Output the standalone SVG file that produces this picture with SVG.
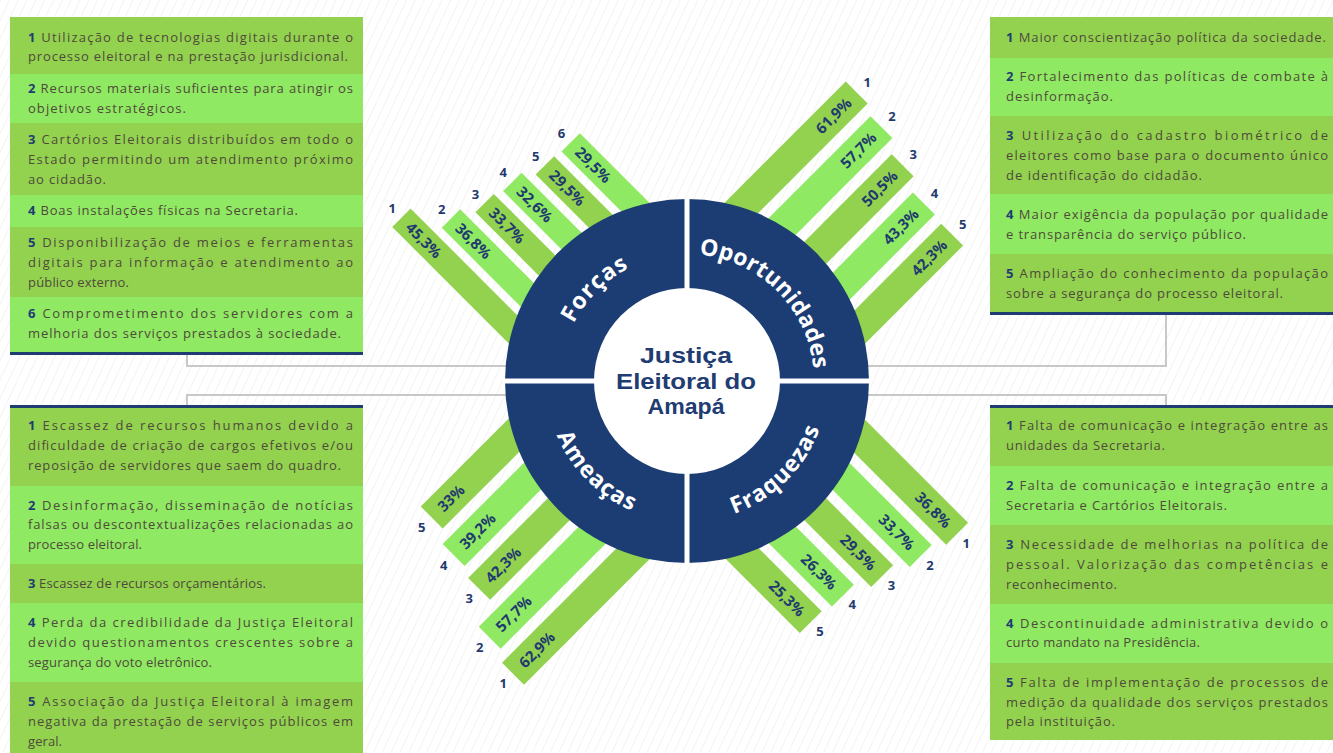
<svg xmlns="http://www.w3.org/2000/svg" width="1333" height="753" viewBox="0 0 1333 753">
<defs>
<pattern id="hatch" width="8" height="8" patternUnits="userSpaceOnUse" patternTransform="rotate(25)">
<line x1="0" y1="0" x2="0" y2="8" stroke="#efefef" stroke-width="1.5"/>
</pattern>
<path id="arcF" d="M560,381 A127,127 0 0 1 687,254"/>
<path id="arcO" d="M687,254 A127,127 0 0 1 814,381"/>
<path id="arcA" d="M546,381 A141,141 0 0 0 687,522"/>
<path id="arcR" d="M687,522 A141,141 0 0 0 828,381"/>
<style>
.pt{font-family:"Open Sans","Liberation Sans",sans-serif;font-size:13px;fill:#4f4a3b}
.n{font-weight:700;fill:#1f3c73}
.dk{fill:#93d24f}
.lt{fill:#8fe962}
.nv{fill:#1f3c73}
.pc{font-family:"Open Sans","Liberation Sans",sans-serif;font-weight:700;font-size:15px;fill:#1f3a6e}
.pe{text-anchor:end}
.num{font-family:"Open Sans","Liberation Sans",sans-serif;font-weight:700;font-size:13px;fill:#1f3a6e;text-anchor:middle}
.ql{font-family:"Open Sans","Liberation Sans",sans-serif;font-weight:700;font-size:23px;fill:#fff;letter-spacing:1px;text-anchor:middle}
.tight{letter-spacing:0.2px}
.ct{font-family:"Liberation Sans",Arial,sans-serif;font-weight:700;font-size:22px;fill:#1f3c73;text-anchor:middle}
.conn{fill:none;stroke:#c8c8c8;stroke-width:2}
</style>
</defs>
<rect width="1333" height="753" fill="#ffffff"/>
<rect width="1333" height="753" fill="url(#hatch)"/>

<g id="connectors">
<path class="conn" d="M187,355 V366 H687"/>
<path class="conn" d="M1166,315 V366 H687"/>
<path class="conn" d="M187,406 V395 H687"/>
<path class="conn" d="M1166,406 V395 H687"/>
</g>

<g id="bars-forcas" transform="translate(687,381) rotate(225)">
<rect class="dk" x="100" y="-99.5" width="217.4" height="26"/>
<rect class="lt" x="100" y="-65" width="181.8" height="26"/>
<rect class="dk" x="100" y="-30.3" width="168.9" height="26"/>
<rect class="lt" x="100" y="4.3" width="164.3" height="26"/>
<rect class="dk" x="100" y="39" width="153" height="26"/>
<rect class="lt" x="100" y="73.5" width="151" height="26"/>
<text class="pc" transform="translate(307.4,-86.5) rotate(180)" dy="0.36em">45,3%</text>
<text class="pc" transform="translate(271.8,-52) rotate(180)" dy="0.36em">36,8%</text>
<text class="pc" transform="translate(258.9,-17.3) rotate(180)" dy="0.36em">33,7%</text>
<text class="pc" transform="translate(254.3,17.3) rotate(180)" dy="0.36em">32,6%</text>
<text class="pc" transform="translate(243,52) rotate(180)" dy="0.36em">29,5%</text>
<text class="pc" transform="translate(241,86.5) rotate(180)" dy="0.36em">29,5%</text>
<text class="num" transform="translate(330.4,-86.5) rotate(-225)" dy="0.36em">1</text>
<text class="num" transform="translate(294.8,-52) rotate(-225)" dy="0.36em">2</text>
<text class="num" transform="translate(281.9,-17.3) rotate(-225)" dy="0.36em">3</text>
<text class="num" transform="translate(277.3,17.3) rotate(-225)" dy="0.36em">4</text>
<text class="num" transform="translate(266,52) rotate(-225)" dy="0.36em">5</text>
<text class="num" transform="translate(264,86.5) rotate(-225)" dy="0.36em">6</text>
</g>

<g id="bars-oportunidades" transform="translate(687,381) rotate(-45)">
<rect class="dk" x="100" y="-99.5" width="224" height="31"/>
<rect class="lt" x="100" y="-57.5" width="217" height="31"/>
<rect class="dk" x="100" y="-15.5" width="205" height="31"/>
<rect class="lt" x="100" y="26.5" width="193" height="31"/>
<rect class="dk" x="100" y="68.5" width="191" height="31"/>
<text class="pc pe" x="313" y="-84" dy="0.36em">61,9%</text>
<text class="pc pe" x="306" y="-42" dy="0.36em">57,7%</text>
<text class="pc pe" x="294" y="0" dy="0.36em">50,5%</text>
<text class="pc pe" x="282" y="42" dy="0.36em">43,3%</text>
<text class="pc pe" x="280" y="84" dy="0.36em">42,3%</text>
<text class="num" transform="translate(339,-84) rotate(45)" dy="0.36em">1</text>
<text class="num" transform="translate(332,-42) rotate(45)" dy="0.36em">2</text>
<text class="num" transform="translate(320,0) rotate(45)" dy="0.36em">3</text>
<text class="num" transform="translate(308,42) rotate(45)" dy="0.36em">4</text>
<text class="num" transform="translate(306,84) rotate(45)" dy="0.36em">5</text>
</g>

<g id="bars-ameacas" transform="translate(687,381) rotate(135)">
<rect class="dk" x="100" y="68.5" width="177" height="31"/>
<rect class="lt" x="100" y="26.5" width="188" height="31"/>
<rect class="dk" x="100" y="-15.5" width="194" height="31"/>
<rect class="lt" x="100" y="-57.5" width="221" height="31"/>
<rect class="dk" x="100" y="-99.5" width="230" height="31"/>
<text class="pc" transform="translate(265,84) rotate(180)" dy="0.36em">33%</text>
<text class="pc" transform="translate(276,42) rotate(180)" dy="0.36em">39,2%</text>
<text class="pc" transform="translate(282,0) rotate(180)" dy="0.36em">42,3%</text>
<text class="pc" transform="translate(309,-42) rotate(180)" dy="0.36em">57,7%</text>
<text class="pc" transform="translate(318,-84) rotate(180)" dy="0.36em">62,9%</text>
<text class="num" transform="translate(291,84) rotate(-135)" dy="0.36em">5</text>
<text class="num" transform="translate(302,42) rotate(-135)" dy="0.36em">4</text>
<text class="num" transform="translate(308,0) rotate(-135)" dy="0.36em">3</text>
<text class="num" transform="translate(335,-42) rotate(-135)" dy="0.36em">2</text>
<text class="num" transform="translate(344,-84) rotate(-135)" dy="0.36em">1</text>
</g>

<g id="bars-fraquezas" transform="translate(687,381) rotate(45)">
<rect class="dk" x="100" y="-98.5" width="199" height="31"/>
<rect class="lt" x="100" y="-57" width="189" height="31"/>
<rect class="dk" x="100" y="-15.5" width="176" height="31"/>
<rect class="lt" x="100" y="26" width="162" height="31"/>
<rect class="dk" x="100" y="67.5" width="158" height="31"/>
<text class="pc pe" x="287" y="-83" dy="0.36em">36,8%</text>
<text class="pc pe" x="277" y="-41.5" dy="0.36em">33,7%</text>
<text class="pc pe" x="264" y="0" dy="0.36em">29,5%</text>
<text class="pc pe" x="250" y="41.5" dy="0.36em">26,3%</text>
<text class="pc pe" x="246" y="83" dy="0.36em">25,3%</text>
<text class="num" transform="translate(312,-83) rotate(-45)" dy="0.36em">1</text>
<text class="num" transform="translate(302,-41.5) rotate(-45)" dy="0.36em">2</text>
<text class="num" transform="translate(289,0) rotate(-45)" dy="0.36em">3</text>
<text class="num" transform="translate(275,41.5) rotate(-45)" dy="0.36em">4</text>
<text class="num" transform="translate(271,83) rotate(-45)" dy="0.36em">5</text>
</g>

<g id="center">
<circle cx="687" cy="381" r="182" fill="#1b3d74"/>
<path d="M687,197 V565 M503,381 H871" stroke="#fff" stroke-width="5"/>
<circle cx="687" cy="381" r="93" fill="#fff"/>
<text class="ql"><textPath href="#arcF" startOffset="50%">Forças</textPath></text>
<text class="ql tight"><textPath href="#arcO" startOffset="50%">Oportunidades</textPath></text>
<text class="ql"><textPath href="#arcA" startOffset="50%">Ameaças</textPath></text>
<text class="ql"><textPath href="#arcR" startOffset="50%">Fraquezas</textPath></text>
<text class="ct" x="686" y="363" textLength="92" lengthAdjust="spacingAndGlyphs">Justiça</text>
<text class="ct" x="686" y="388.5" textLength="140" lengthAdjust="spacingAndGlyphs">Eleitoral do</text>
<text class="ct" x="686" y="414" textLength="77" lengthAdjust="spacingAndGlyphs">Amapá</text>
</g>

<g id="panel-forcas">
<rect class="dk" x="10" y="17" width="353" height="57"/>
<rect class="lt" x="10" y="74" width="353" height="49"/>
<rect class="dk" x="10" y="123" width="353" height="72"/>
<rect class="lt" x="10" y="195" width="353" height="32"/>
<rect class="dk" x="10" y="227" width="353" height="70"/>
<rect class="lt" x="10" y="297" width="353" height="55"/>
<rect class="nv" x="10" y="352" width="353" height="3"/>
<text class="pt" x="28" y="42" textLength="325" lengthAdjust="spacing"><tspan class="n">1</tspan> Utilização de tecnologias digitais durante o</text>
<text class="pt" x="28" y="61" textLength="320" lengthAdjust="spacing">processo eleitoral e na prestação jurisdicional.</text>
<text class="pt" x="28" y="93" textLength="325" lengthAdjust="spacing"><tspan class="n">2</tspan> Recursos materiais suficientes para atingir os</text>
<text class="pt" x="28" y="113" textLength="158" lengthAdjust="spacing">objetivos estratégicos.</text>
<text class="pt" x="28" y="144" textLength="325" lengthAdjust="spacing"><tspan class="n">3</tspan> Cartórios Eleitorais distribuídos em todo o</text>
<text class="pt" x="28" y="164" textLength="325" lengthAdjust="spacing">Estado permitindo um atendimento próximo</text>
<text class="pt" x="28" y="184" textLength="78" lengthAdjust="spacing">ao cidadão.</text>
<text class="pt" x="28" y="215" textLength="270" lengthAdjust="spacing"><tspan class="n">4</tspan> Boas instalações físicas na Secretaria.</text>
<text class="pt" x="28" y="247" textLength="325" lengthAdjust="spacing"><tspan class="n">5</tspan> Disponibilização de meios e ferramentas</text>
<text class="pt" x="28" y="267" textLength="325" lengthAdjust="spacing">digitais para informação e atendimento ao</text>
<text class="pt" x="28" y="287" textLength="101" lengthAdjust="spacing">público externo.</text>
<text class="pt" x="28" y="318" textLength="325" lengthAdjust="spacing"><tspan class="n">6</tspan> Comprometimento dos servidores com a</text>
<text class="pt" x="28" y="338" textLength="313" lengthAdjust="spacing">melhoria dos serviços prestados à sociedade.</text>
</g>

<g id="panel-oportunidades">
<rect class="dk" x="990" y="17" width="343" height="41"/>
<rect class="lt" x="990" y="58" width="343" height="58"/>
<rect class="dk" x="990" y="116" width="343" height="78"/>
<rect class="lt" x="990" y="194" width="343" height="60"/>
<rect class="dk" x="990" y="254" width="343" height="58"/>
<rect class="nv" x="990" y="312" width="343" height="3"/>
<text class="pt" x="1006" y="42" textLength="320" lengthAdjust="spacing"><tspan class="n">1</tspan> Maior conscientização política da sociedade.</text>
<text class="pt" x="1006" y="81" textLength="322" lengthAdjust="spacing"><tspan class="n">2</tspan> Fortalecimento das políticas de combate à</text>
<text class="pt" x="1006" y="101" textLength="107" lengthAdjust="spacing">desinformação.</text>
<text class="pt" x="1006" y="140" textLength="322" lengthAdjust="spacing"><tspan class="n">3</tspan> Utilização do cadastro biométrico de</text>
<text class="pt" x="1006" y="160" textLength="322" lengthAdjust="spacing">eleitores como base para o documento único</text>
<text class="pt" x="1006" y="180" textLength="196" lengthAdjust="spacing">de identificação do cidadão.</text>
<text class="pt" x="1006" y="219" textLength="322" lengthAdjust="spacing"><tspan class="n">4</tspan> Maior exigência da população por qualidade</text>
<text class="pt" x="1006" y="239" textLength="240" lengthAdjust="spacing">e transparência do serviço público.</text>
<text class="pt" x="1006" y="278" textLength="322" lengthAdjust="spacing"><tspan class="n">5</tspan> Ampliação do conhecimento da população</text>
<text class="pt" x="1006" y="298" textLength="277" lengthAdjust="spacing">sobre a segurança do processo eleitoral.</text>
</g>

<g id="panel-ameacas">
<rect class="nv" x="10" y="405" width="353" height="3"/>
<rect class="dk" x="10" y="408" width="353" height="78"/>
<rect class="lt" x="10" y="486" width="353" height="78"/>
<rect class="dk" x="10" y="564" width="353" height="39"/>
<rect class="lt" x="10" y="603" width="353" height="79"/>
<rect class="dk" x="10" y="682" width="353" height="71"/>
<text class="pt" x="28" y="430" textLength="325" lengthAdjust="spacing"><tspan class="n">1</tspan> Escassez de recursos humanos devido a</text>
<text class="pt" x="28" y="450" textLength="325" lengthAdjust="spacing">dificuldade de criação de cargos efetivos e/ou</text>
<text class="pt" x="28" y="470" textLength="313" lengthAdjust="spacing">reposição de servidores que saem do quadro.</text>
<text class="pt" x="28" y="510" textLength="325" lengthAdjust="spacing"><tspan class="n">2</tspan> Desinformação, disseminação de notícias</text>
<text class="pt" x="28" y="529" textLength="325" lengthAdjust="spacing">falsas ou descontextualizações relacionadas ao</text>
<text class="pt" x="28" y="549" textLength="114" lengthAdjust="spacing">processo eleitoral.</text>
<text class="pt" x="28" y="588" textLength="238" lengthAdjust="spacing"><tspan class="n">3</tspan> Escassez de recursos orçamentários.</text>
<text class="pt" x="28" y="627" textLength="325" lengthAdjust="spacing"><tspan class="n">4</tspan> Perda da credibilidade da Justiça Eleitoral</text>
<text class="pt" x="28" y="647" textLength="325" lengthAdjust="spacing">devido questionamentos crescentes sobre a</text>
<text class="pt" x="28" y="667" textLength="184" lengthAdjust="spacing">segurança do voto eletrônico.</text>
<text class="pt" x="28" y="706" textLength="325" lengthAdjust="spacing"><tspan class="n">5</tspan> Associação da Justiça Eleitoral à imagem</text>
<text class="pt" x="28" y="726" textLength="325" lengthAdjust="spacing">negativa da prestação de serviços públicos em</text>
<text class="pt" x="28" y="746" textLength="34" lengthAdjust="spacing">geral.</text>
</g>

<g id="panel-fraquezas">
<rect class="nv" x="990" y="405" width="343" height="3"/>
<rect class="dk" x="990" y="408" width="343" height="58"/>
<rect class="lt" x="990" y="466" width="343" height="59"/>
<rect class="dk" x="990" y="525" width="343" height="79"/>
<rect class="lt" x="990" y="604" width="343" height="59"/>
<rect class="dk" x="990" y="663" width="343" height="77"/>
<text class="pt" x="1006" y="430" textLength="322" lengthAdjust="spacing"><tspan class="n">1</tspan> Falta de comunicação e integração entre as</text>
<text class="pt" x="1006" y="450" textLength="159" lengthAdjust="spacing">unidades da Secretaria.</text>
<text class="pt" x="1006" y="490" textLength="322" lengthAdjust="spacing"><tspan class="n">2</tspan> Falta de comunicação e integração entre a</text>
<text class="pt" x="1006" y="510" textLength="221" lengthAdjust="spacing">Secretaria e Cartórios Eleitorais.</text>
<text class="pt" x="1006" y="549" textLength="322" lengthAdjust="spacing"><tspan class="n">3</tspan> Necessidade de melhorias na política de</text>
<text class="pt" x="1006" y="569" textLength="322" lengthAdjust="spacing">pessoal. Valorização das competências e</text>
<text class="pt" x="1006" y="589" textLength="111" lengthAdjust="spacing">reconhecimento.</text>
<text class="pt" x="1006" y="628" textLength="322" lengthAdjust="spacing"><tspan class="n">4</tspan> Descontinuidade administrativa devido o</text>
<text class="pt" x="1006" y="647" textLength="194" lengthAdjust="spacing">curto mandato na Presidência.</text>
<text class="pt" x="1006" y="687" textLength="322" lengthAdjust="spacing"><tspan class="n">5</tspan> Falta de implementação de processos de</text>
<text class="pt" x="1006" y="707" textLength="322" lengthAdjust="spacing">medição da qualidade dos serviços prestados</text>
<text class="pt" x="1006" y="726" textLength="109" lengthAdjust="spacing">pela instituição.</text>
</g>
</svg>
